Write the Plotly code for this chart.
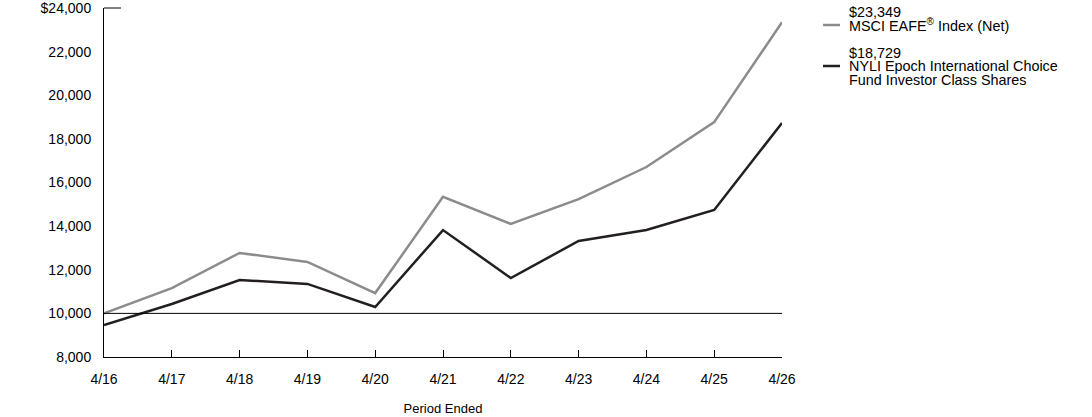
import plotly.graph_objects as go

periods = ["4/16", "4/17", "4/18", "4/19", "4/20", "4/21", "4/22", "4/23", "4/24", "4/25", "4/26"]
msci = [10000, 11160, 12770, 12360, 10930, 15340, 14100, 15240, 16710, 18770, 23349]
fund = [9470, 10430, 11530, 11350, 10290, 13820, 11620, 13320, 13820, 14740, 18729]
ytick_vals = [8000, 10000, 12000, 14000, 16000, 18000, 20000, 22000, 24000]
ytick_text = ["8,000", "10,000", "12,000", "14,000", "16,000", "18,000", "20,000", "22,000", "$24,000"]

MSCI_COLOR = "#8c8c8c"
FUND_COLOR = "#231f20"
FONT = "Liberation Sans, Arial, sans-serif"

xs = list(range(len(periods)))
fig = go.Figure()
fig.add_trace(go.Scatter(x=xs, y=msci, mode="lines", line=dict(color=MSCI_COLOR, width=2.5), showlegend=False, hoverinfo="skip"))
fig.add_trace(go.Scatter(x=xs, y=fund, mode="lines", line=dict(color=FUND_COLOR, width=2.5), showlegend=False, hoverinfo="skip"))

fig.update_layout(
    width=1092, height=417,
    margin=dict(l=104, r=310, t=8, b=60, autoexpand=False),
    paper_bgcolor="white", plot_bgcolor="white",
    font=dict(family=FONT, size=13, color="#000000"),
    xaxis=dict(range=[0, 10], tickvals=xs, ticktext=periods, ticks="inside", ticklen=7,
               tickcolor="#000", showline=True, linecolor="#000", linewidth=1,
               showgrid=False, zeroline=False, automargin=False, ticklabelstandoff=9,
               tickfont=dict(size=14),
               title=dict(text="Period Ended", font=dict(size=13), standoff=18)),
    yaxis=dict(range=[8000, 24000], tickvals=ytick_vals, ticktext=ytick_text, ticks="",
               showline=True, linecolor="#000", linewidth=1, showgrid=False, zeroline=False,
               automargin=False, ticklabelstandoff=9, tickfont=dict(size=14),
               ticklabeloverflow="allow"),
)

# baseline at 10,000
fig.add_shape(type="line", xref="x", yref="y", x0=0, x1=10, y0=10000, y1=10000,
              line=dict(color="#000", width=1))
# short top tick
fig.add_shape(type="line", xref="paper", yref="paper", x0=0, x1=17/678, y0=1, y1=1,
              line=dict(color="#000", width=1))

# legend
def ypx(py):
    return 1 - (py - 8) / 349

def xpx(px):
    return (px - 104) / 678

fig.add_shape(type="line", xref="paper", yref="paper", x0=xpx(823), x1=xpx(840), y0=ypx(25), y1=ypx(25),
              line=dict(color=MSCI_COLOR, width=2.5))
fig.add_shape(type="line", xref="paper", yref="paper", x0=xpx(823), x1=xpx(840), y0=ypx(66), y1=ypx(66),
              line=dict(color=FUND_COLOR, width=2.5))

legend_lines = [
    ("$23,349", 12),
    ("MSCI EAFE<sup>®</sup> Index (Net)", 25),
    ("$18,729", 53),
    ("NYLI Epoch International Choice", 66),
    ("Fund Investor Class Shares", 80),
]
for txt, py in legend_lines:
    fig.add_annotation(text=txt, xref="paper", yref="paper", x=xpx(847), y=ypx(py),
                       xanchor="left", yanchor="middle", showarrow=False,
                       font=dict(family=FONT, size=14.4, color="#000"))

fig.write_html("out.html")
